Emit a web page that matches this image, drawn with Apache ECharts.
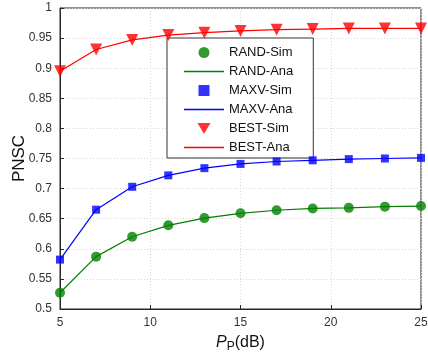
<!DOCTYPE html>
<html>
<head>
<meta charset="utf-8">
<script src="https://cdn.jsdelivr.net/npm/echarts@6/dist/echarts.min.js"></script>
<style>
  html, body { margin: 0; padding: 0; background: #fff; }
  #stage { width: 428px; height: 355px; }
</style>
</head>
<body>
<div id="stage"></div>
<script>
'use strict';

const myChart = echarts.init(document.getElementById('stage'));

// x軸 (P_P dB)
const pp = [5, 7, 9, 11, 13, 15, 17, 19, 21, 23, 25];
const xTicks = [5, 10, 15, 20, 25];

// 各方式のPNSC
const randVals = [0.527, 0.587, 0.620, 0.639, 0.651, 0.659, 0.664, 0.667, 0.668, 0.670, 0.671];
const maxvVals = [0.582, 0.665, 0.703, 0.722, 0.734, 0.741, 0.745, 0.747, 0.749, 0.750, 0.751];
const bestVals = [0.895, 0.931, 0.947, 0.955, 0.959, 0.962, 0.964, 0.965, 0.966, 0.966, 0.966];

const names = ['RAND-Sim', 'RAND-Ana', 'MAXV-Sim', 'MAXV-Ana', 'BEST-Sim', 'BEST-Ana'];

function pairs(vals) {
  return pp.map((x, i) => [x, vals[i]]);
}

const FONT = 'Liberation Sans, Arial, sans-serif';
const LINE_ICON = 'path://M0,0H40V1.3H0Z';

const option = {
  animation: false,
  textStyle: { fontFamily: FONT },
  grid: {
    left: 60,
    right: 7,
    top: 8,
    bottom: 46,
    outerBoundsMode: 'none',
    show: true,
    borderColor: '#262626',
    borderWidth: 1
  },
  legend: {
    orient: 'vertical',
    left: 167,
    top: 38,
    padding: [8, 20, 4, 17],
    itemWidth: 40,
    itemHeight: 11,
    itemGap: 6,
    symbolKeepAspect: true,
    backgroundColor: '#fff',
    borderColor: '#333',
    borderWidth: 1,
    textStyle: { fontSize: 13, color: '#111', fontFamily: FONT },
    data: [
      { name: names[0], icon: 'circle' },
      { name: names[1], icon: LINE_ICON },
      { name: names[2], icon: 'path://M0,0H1V1H0Z' },
      { name: names[3], icon: LINE_ICON },
      { name: names[4], icon: 'path://M0,0L2,0L1,1.7Z' },
      { name: names[5], icon: LINE_ICON }
    ]
  },
  xAxis: {
    type: 'value',
    min: 5,
    max: 25,
    interval: 5,
    name: '{i|P}{s|P}(dB)',
    nameLocation: 'middle',
    nameGap: 24,
    nameMoveOverlap: false,
    nameTextStyle: {
      rich: {
        i: { fontSize: 16, fontStyle: 'italic', color: '#111', fontFamily: FONT },
        s: { fontSize: 12, color: '#111', fontFamily: FONT, verticalAlign: 'bottom', padding: [8, 0, 0, 0] }
      },
      fontSize: 16,
      color: '#111'
    },
    axisLine: { lineStyle: { color: '#262626' } },
    axisTick: { inside: true, length: 4, lineStyle: { color: '#262626' } },
    axisLabel: {
      fontSize: 12,
      color: '#333',
      margin: 8,
      formatter: v => (xTicks.includes(v) ? String(v) : '')
    },
    splitLine: { show: true, lineStyle: { color: '#d6d6d6', type: [1, 2] } }
  },
  yAxis: {
    type: 'value',
    min: 0.5,
    max: 1,
    interval: 0.05,
    name: 'PNSC',
    nameLocation: 'middle',
    nameGap: 32,
    nameMoveOverlap: false,
    nameTextStyle: { fontSize: 17, color: '#111' },
    axisLine: { show: true, lineStyle: { color: '#262626' } },
    axisTick: { show: true, inside: true, length: 4, lineStyle: { color: '#262626' } },
    axisLabel: {
      fontSize: 12,
      color: '#333',
      margin: 8,
      formatter: v => String(parseFloat(v.toFixed(2)))
    },
    splitLine: { show: true, lineStyle: { color: '#d6d6d6', type: [1, 2] } }
  },
  series: [
    {
      name: names[0],
      type: 'scatter',
      symbol: 'circle',
      symbolSize: 10,
      itemStyle: { color: '#008000' },
      data: pairs(randVals),
      z: 5
    },
    {
      name: names[1],
      type: 'line',
      symbol: 'none',
      lineStyle: { color: '#008000', width: 1.2 },
      itemStyle: { color: '#008000' },
      data: pairs(randVals)
    },
    {
      name: names[2],
      type: 'scatter',
      symbol: 'rect',
      symbolSize: 8,
      itemStyle: { color: '#0000ff' },
      data: pairs(maxvVals),
      z: 5
    },
    {
      name: names[3],
      type: 'line',
      symbol: 'none',
      lineStyle: { color: '#0000ff', width: 1.2 },
      itemStyle: { color: '#0000ff' },
      data: pairs(maxvVals)
    },
    {
      name: names[4],
      type: 'scatter',
      symbol: 'triangle',
      symbolRotate: 180,
      symbolSize: 12,
      itemStyle: { color: '#ff0000' },
      data: pairs(bestVals),
      z: 5
    },
    {
      name: names[5],
      type: 'line',
      symbol: 'none',
      lineStyle: { color: '#ff0000', width: 1.2 },
      itemStyle: { color: '#ff0000' },
      data: pairs(bestVals)
    }
  ]
};

myChart.setOption(option);
</script>
</body>
</html>
